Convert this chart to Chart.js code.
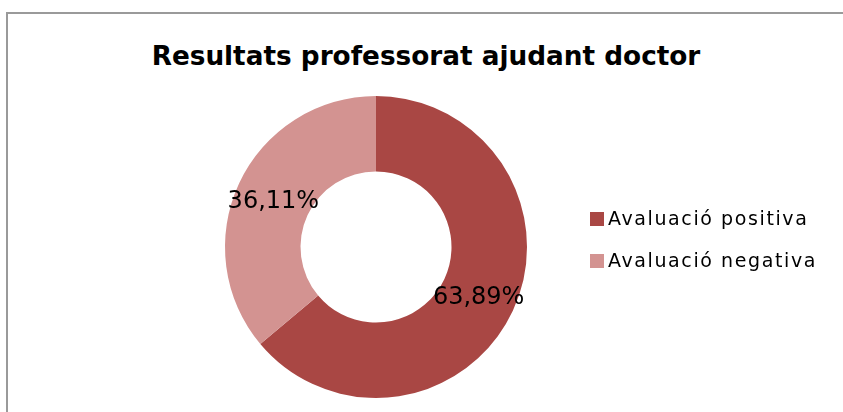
<!DOCTYPE html>
<html>
<head>
<meta charset="utf-8">
<script src="https://cdn.jsdelivr.net/npm/chart.js@4"></script>
<style>
    html, body { margin: 0; padding: 0; background: #fff; }
    body { width: 843px; height: 412px; position: relative; overflow: hidden; font-family: 'DejaVu Sans', Verdana, sans-serif; }
    #frame { position: absolute; left: 6px; top: 12px; width: 900px; height: 500px; border: 2px solid #9a9a9a; }
    #chart { position: absolute; left: 0; top: 0; }
    #title { position: absolute; left: 0; width: 852px; top: 40px; text-align: center; font-weight: bold; font-size: 26.3px; line-height: 32px; color: #000; white-space: nowrap; }
    .legend-item { position: absolute; left: 590px; font-size: 19px; letter-spacing: 1.6px; color: #000; white-space: nowrap; line-height: 20px; }
    .legend-item span { display: inline-block; width: 14px; height: 14px; margin-right: 4px; vertical-align: -1px; }
</style>
</head>
<body>
<div id="frame"></div>
<div id="title">Resultats professorat ajudant doctor</div>
<canvas id="chart" width="843" height="412"></canvas>
<div id="legend"></div>
<script>
// chart values
const categories = ['Avaluació positiva', 'Avaluació negativa'];
const percentages = [63.89, 36.11];
const sliceColors = ['#a94744', '#d39391'];

// legend built as html so the text stays real text
const legendDiv = document.getElementById('legend');
categories.forEach(function (label, i) {
    const item = document.createElement('div');
    item.className = 'legend-item';
    item.style.top = (208 + i * 42) + 'px';
    item.innerHTML = `<span style="background:${sliceColors[i]}"></span>${label}`;
    legendDiv.appendChild(item);
});

// percentage labels in the middle of each ring slice
const sliceLabels = {
    id: 'sliceLabels',
    afterDatasetsDraw: function (chart) {
        const ctx = chart.ctx;
        const meta = chart.getDatasetMeta(0);
        ctx.save();
        ctx.font = '24px "DejaVu Sans"';
        ctx.fillStyle = '#000';
        ctx.textAlign = 'center';
        ctx.textBaseline = 'middle';
        meta.data.forEach(function (arc, i) {
            const pos = arc.getCenterPoint();
            ctx.fillText(percentages[i].toFixed(2).replace('.', ',') + '%', pos.x, pos.y + 3);
        });
        ctx.restore();
    }
};

const ctx = document.getElementById('chart');
const myChart = new Chart(ctx, {
    type: 'doughnut',
    data: {
        labels: categories,
        datasets: [{
            data: percentages,
            backgroundColor: sliceColors,
            borderWidth: 0
        }]
    },
    options: {
        responsive: false,
        animation: false,
        cutout: '50%',
        layout: {
            padding: { left: 225, right: 316, top: 96, bottom: 14 }
        },
        plugins: {
            legend: { display: false },
            title: { display: false },
            tooltip: { enabled: false }
        }
    },
    plugins: [sliceLabels]
});
</script>
</body>
</html>
